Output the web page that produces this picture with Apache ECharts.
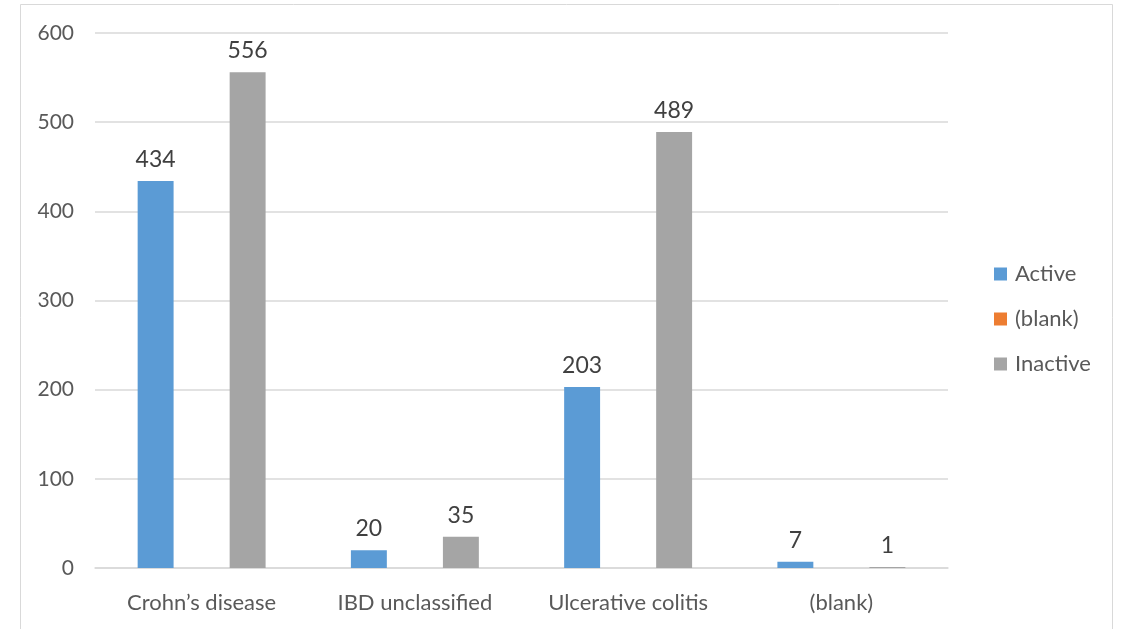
<!DOCTYPE html>
<html>
<head>
<meta charset="utf-8">
<script src="https://cdn.jsdelivr.net/npm/echarts@6/dist/echarts.min.js"></script>
<style>
html,body{margin:0;padding:0;background:#fff;}
#chart{width:1124px;height:629px;}
</style>
</head>
<body>
<div id="chart"></div>
<script>
const categories = ['Crohn\u2019s disease', 'IBD unclassified', 'Ulcerative colitis', '(blank)'];
const activeValues = [434, 20, 203, 7];
const blankValues = [null, null, null, null];
const inactiveValues = [556, 35, 489, 1];
const seriesNames = ['Active', '(blank)', 'Inactive'];

const chart = echarts.init(document.getElementById('chart'));
const FONT = 'Lato, "Open Sans", sans-serif';
const labelCfg = {
  show: true, position: 'top', distance: 10,
  color: '#404040', fontSize: 23, fontFamily: FONT
};
chart.setOption({
  animation: false,
  backgroundColor: '#fff',
  graphic: [{
    type: 'rect', shape: {x: 20.5, y: 4.5, width: 1092, height: 640},
    style: {fill: 'none', stroke: '#d9d9d9', lineWidth: 1}, z: -1, silent: true
  }],
  grid: {left: 95, right: 176, top: 33, bottom: 61, containLabel: false},
  legend: {
    orient: 'vertical', left: 989, top: 258, itemGap: 23,
    itemWidth: 13, itemHeight: 13, icon: 'rect',
    textStyle: {color: '#595959', fontSize: 22, fontFamily: FONT, padding: [0, 0, 0, 3]},
    data: seriesNames
  },
  xAxis: {
    type: 'category', data: categories,
    axisLine: {show: true, lineStyle: {color: '#d9d9d9', width: 1.5}},
    axisTick: {show: false},
    axisLabel: {color: '#595959', fontSize: 22, fontFamily: FONT, margin: 24}
  },
  yAxis: {
    type: 'value', min: 0, max: 600, interval: 100,
    axisLine: {show: false}, axisTick: {show: false},
    axisLabel: {color: '#595959', fontSize: 21, fontFamily: FONT, margin: 21},
    splitLine: {lineStyle: {color: '#d9d9d9', width: 1.5}}
  },
  series: [
    {name: seriesNames[0], type: 'bar', data: activeValues, itemStyle: {color: '#5b9bd5'},
     barCategoryGap: '40%', barGap: '28%', label: labelCfg},
    {name: seriesNames[1], type: 'bar', data: blankValues, itemStyle: {color: '#ed7d31'},
     label: labelCfg},
    {name: seriesNames[2], type: 'bar', data: inactiveValues, itemStyle: {color: '#a5a5a5'},
     label: labelCfg}
  ]
});
</script>
</body>
</html>
